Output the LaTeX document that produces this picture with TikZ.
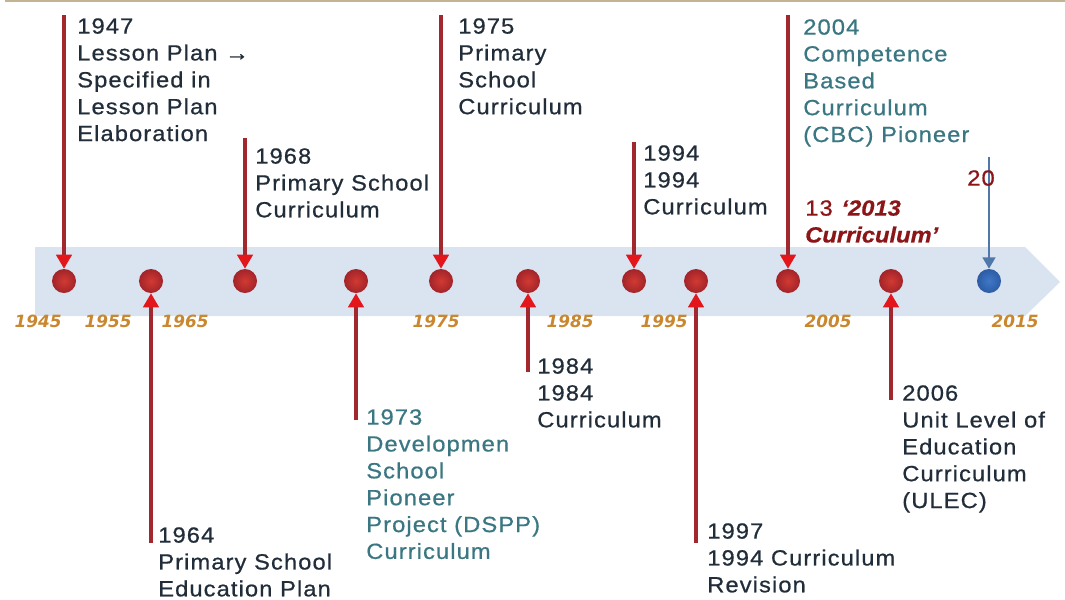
\documentclass[tikz,border=0pt]{standalone}
\usepackage{fontspec}
\setmainfont{Liberation Sans}[FakeStretch=1.08,LetterSpace=5,FakeBold=0.7]
\newfontfamily\yearfont{DejaVu Sans}
\usetikzlibrary{arrows.meta}

\definecolor{bandblue}{HTML}{DAE4F0}
\definecolor{inkdark}{HTML}{222D3A}
\definecolor{inkteal}{HTML}{3A7782}
\definecolor{inkred}{HTML}{8C1518}
\definecolor{stemred}{HTML}{A0282E}
\definecolor{tipred}{HTML}{E3161C}
\definecolor{dotred}{HTML}{D23A32}
\definecolor{dotrim}{HTML}{A2242A}
\definecolor{dotblue}{HTML}{3F78C8}
\definecolor{dotbluerim}{HTML}{2C5CA4}
\definecolor{stemblue}{HTML}{5077AA}
\definecolor{yeargold}{HTML}{C9872F}
\definecolor{rulebrown}{HTML}{C4B294}

\tikzset{
  event/.style={anchor=north west, inner sep=0pt, align=left, text=inkdark,
    font=\fontsize{15.6}{19.1}\selectfont},
  reddot/.style={circle, minimum size=0.6cm, inner sep=0pt, inner color=dotred, outer color=dotrim},
  bluedot/.style={circle, minimum size=0.6cm, inner sep=0pt, inner color=dotblue, outer color=dotbluerim},
  pointer/.style={draw=stemred, line width=2.2pt, -{Triangle[width=11pt,length=10pt,color=tipred]}},
  yearlbl/.style={inner sep=0pt, text=yeargold, font=\yearfont\bfseries\itshape\fontsize{12}{14}\selectfont}
}

\begin{document}
\begin{tikzpicture}[x=0.025cm,y=-0.025cm]
\useasboundingbox (0,0) rectangle (1065,599);

% rule along the top and the time band
\draw[rulebrown, line width=2pt] (5,1) -- (1065,1);
\fill[bandblue] (35,247) -- (1025,247) -- (1060,282) -- (1025,316) -- (35,316) -- cycle;

% events on the band
\node[reddot] (d1947) at (64,281) {};
\node[reddot] (d1964) at (151,281) {};
\node[reddot] (d1968) at (245,281) {};
\node[reddot] (d1973) at (356,281) {};
\node[reddot] (d1975) at (441,281) {};
\node[reddot] (d1984) at (528,281) {};
\node[reddot] (d1994) at (634,281) {};
\node[reddot] (d1997) at (696,281) {};
\node[reddot] (d2004) at (788,281) {};
\node[reddot] (d2006) at (891,281) {};
\node[bluedot] (d2013) at (989,281) {};

\foreach \yr/\xx in {1945/38,1955/108,1965/185,1975/436,1985/570,1995/664,2005/828,2015/1015}
  \node[yearlbl] (y\yr) at (\xx,321) {\yr};

% arrows from above
\coordinate (s1947) at (64,15);
\coordinate (s1968) at (245,138);
\coordinate (s1975) at (441,15);
\coordinate (s1994) at (634,142);
\coordinate (s2004) at (788,15);
\coordinate (s2013) at (989,157);
\draw[pointer] (s1947) -- (d1947);
\draw[pointer] (s1968) -- (d1968);
\draw[pointer] (s1975) -- (d1975);
\draw[pointer] (s1994) -- (d1994);
\draw[pointer] (s2004) -- (d2004);
\draw[stemblue, line width=1.6pt, -{Triangle[width=9pt,length=8pt]}] (s2013) -- (d2013);

% arrows from below
\coordinate (s1964) at (151,543);
\coordinate (s1973) at (356,420);
\coordinate (s1984) at (528,372);
\coordinate (s1997) at (696,543);
\coordinate (s2006) at (891,400);
\draw[pointer] (s1964) -- (d1964);
\draw[pointer] (s1973) -- (d1973);
\draw[pointer] (s1984) -- (d1984);
\draw[pointer] (s1997) -- (d1997);
\draw[pointer] (s2006) -- (d2006);

% texts above the band
\node[event] (t1947) at (77,18) {1947\\Lesson Plan →\\Specified in\\Lesson Plan\\Elaboration};
\node[event] (t1968) at (255,148) {1968\\Primary School\\Curriculum};
\node[event] (t1975) at (458,18) {1975\\Primary\\School\\Curriculum};
\node[event] (t1994) at (643,145) {1994\\1994\\Curriculum};
\node[event, text=inkteal] (t2004) at (803,19) {2004\\Competence\\Based\\Curriculum\\(CBC) Pioneer};
\node[event, text=inkred] (t2013) at (805,200)
  {13 \textbf{\textit{\addfontfeature{LetterSpace=0}‘2013}}\\\textbf{\textit{\addfontfeature{LetterSpace=0}Curriculum’}}};
\node[event, text=inkred] (t20) at (967,170) {20};

% texts below the band
\node[event] (t1964) at (158,527) {1964\\Primary School\\Education Plan};
\node[event, text=inkteal] (t1973) at (366,409) {1973\\Developmen\\School\\Pioneer\\Project (DSPP)\\Curriculum};
\node[event] (t1984) at (537,358) {1984\\1984\\Curriculum};
\node[event] (t1997) at (707,523) {1997\\1994 Curriculum\\Revision};
\node[event] (t2006) at (902,385) {2006\\Unit Level of\\Education\\Curriculum\\(ULEC)};
\end{tikzpicture}
\end{document}
